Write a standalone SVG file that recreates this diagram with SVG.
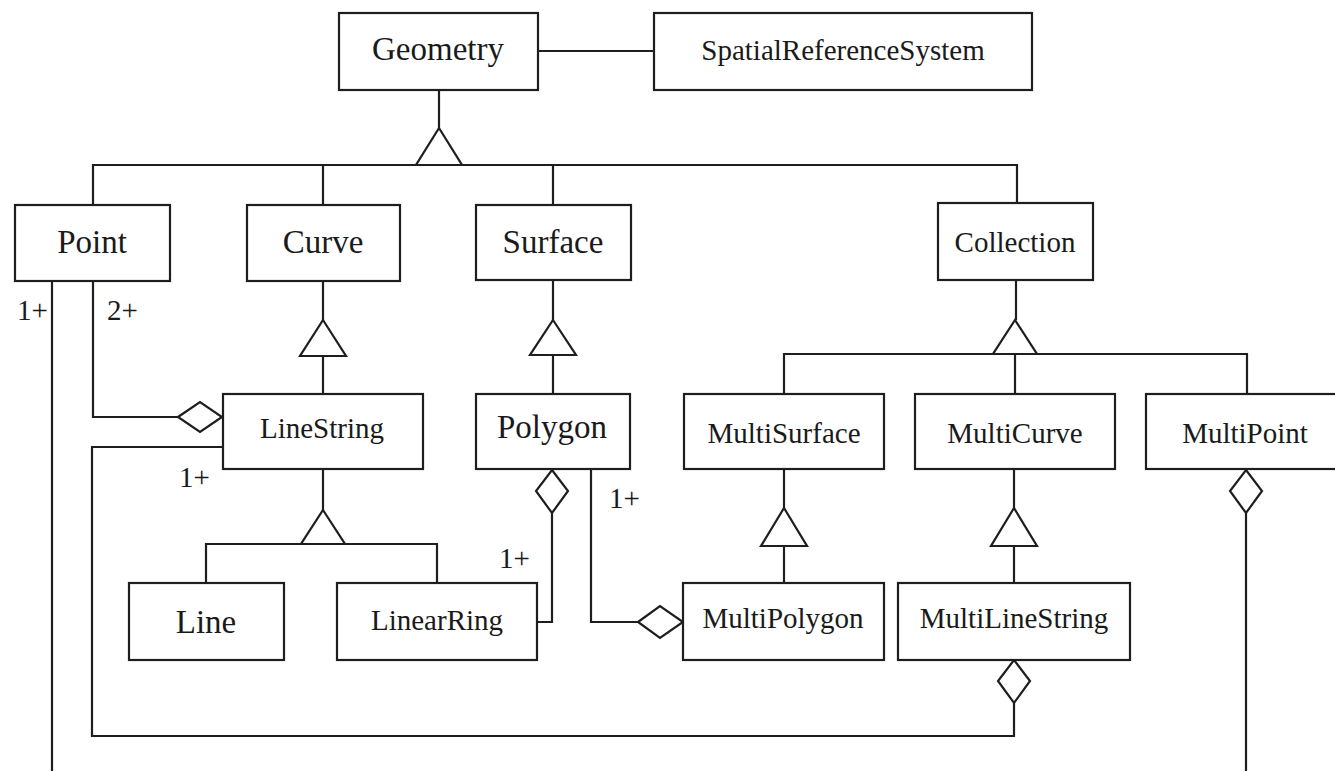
<svg xmlns="http://www.w3.org/2000/svg" width="1335" height="771" viewBox="0 0 1335 771">
<style>
.box{fill:#fff;stroke:#1e1e1e;stroke-width:2.2}
.t{font-family:"Liberation Serif","Times New Roman",serif;fill:#1a1a1a;text-anchor:middle}
.b{font-size:33px}
.s{font-size:29px}
.lbl{font-family:"Liberation Serif","Times New Roman",serif;fill:#1a1a1a;font-size:29px}
.ln{fill:none;stroke:#1e1e1e;stroke-width:2.2}
.tri{fill:#fff;stroke:#1e1e1e;stroke-width:2.2;stroke-linejoin:miter}
.dia{fill:#fff;stroke:#1e1e1e;stroke-width:2.2}
</style>
<rect width="1335" height="771" fill="#fff"/>
<g id="connectors">
<!-- Geometry - SRS -->
<path class="ln" d="M538,51 H654"/>
<!-- Geometry generalization -->
<path class="ln" d="M439,90 V128"/>
<path class="ln" d="M93,205 V165 H1017 V203"/>
<path class="ln" d="M323,165 V205"/>
<path class="ln" d="M553,165 V205"/>
<polygon class="tri" points="439,128 462,165 416,165"/>
<!-- Curve -> LineString -->
<path class="ln" d="M323,281 V394"/>
<polygon class="tri" points="323,320 346,356 300,356"/>
<!-- Surface -> Polygon -->
<path class="ln" d="M553,280 V394"/>
<polygon class="tri" points="553,320 576,355 530,355"/>
<!-- Collection -> Multi* -->
<path class="ln" d="M1016,280 V320"/>
<path class="ln" d="M784,394 V354 H1247 V394"/>
<path class="ln" d="M1015,354 V394"/>
<polygon class="tri" points="1015,320 1037,354 993,354"/>
<!-- LineString -> Line, LinearRing -->
<path class="ln" d="M323,469 V510"/>
<path class="ln" d="M206,583 V544 H437 V583"/>
<polygon class="tri" points="323,510 345,544 301,544"/>
<!-- MultiSurface -> MultiPolygon -->
<path class="ln" d="M784,469 V583"/>
<polygon class="tri" points="784,508 807,546 761,546"/>
<!-- MultiCurve -> MultiLineString -->
<path class="ln" d="M1014,469 V583"/>
<polygon class="tri" points="1014,508 1037,546 991,546"/>
<!-- Point 1+ line -->
<path class="ln" d="M52,281 V771"/>
<!-- Point 2+ to LineString -->
<path class="ln" d="M93,281 V417 H178"/>
<polygon class="dia" points="178,417 200,402 222,417 200,432"/>
<!-- LineString 1+ to MultiLineString -->
<path class="ln" d="M223,447 H92 V736 H1014 V703"/>
<polygon class="dia" points="1014,660 1030,681 1014,703 998,681"/>
<!-- LinearRing to Polygon -->
<path class="ln" d="M537,622 H552 V513"/>
<polygon class="dia" points="552,470 568,491 552,513 536,491"/>
<!-- Polygon to MultiPolygon -->
<path class="ln" d="M591,469 V622 H638"/>
<polygon class="dia" points="638,622 660,606 683,622 660,638"/>
<!-- MultiPoint to Point -->
<path class="ln" d="M1246,513 V771"/>
<polygon class="dia" points="1246,470 1262,491 1246,513 1230,491"/>
<!-- multiplicities -->
<text class="lbl" x="17" y="320">1+</text>
<text class="lbl" x="107" y="320">2+</text>
<text class="lbl" x="179" y="487">1+</text>
<text class="lbl" x="609" y="508">1+</text>
<text class="lbl" x="499" y="568">1+</text>
</g>
<g id="Geometry"><rect class="box" x="339" y="13" width="199" height="77"/><text class="t b" x="438" y="60">Geometry</text></g>
<g id="SpatialReferenceSystem"><rect class="box" x="654" y="13" width="378" height="77"/><text class="t s" x="843" y="60">SpatialReferenceSystem</text></g>
<g id="Point"><rect class="box" x="15" y="205" width="155" height="76"/><text class="t b" x="92" y="253">Point</text></g>
<g id="Curve"><rect class="box" x="247" y="205" width="153" height="76"/><text class="t b" x="323" y="253">Curve</text></g>
<g id="Surface"><rect class="box" x="476" y="205" width="155" height="75"/><text class="t b" x="553" y="253">Surface</text></g>
<g id="Collection"><rect class="box" x="938" y="203" width="155" height="77"/><text class="t s" x="1015" y="252">Collection</text></g>
<g id="LineString"><rect class="box" x="223" y="394" width="200" height="75"/><text class="t s" x="322" y="438">LineString</text></g>
<g id="Polygon"><rect class="box" x="476" y="394" width="154" height="75"/><text class="t b" x="552" y="438">Polygon</text></g>
<g id="MultiSurface"><rect class="box" x="684" y="394" width="200" height="75"/><text class="t s" x="784" y="443">MultiSurface</text></g>
<g id="MultiCurve"><rect class="box" x="915" y="394" width="200" height="75"/><text class="t s" x="1015" y="443">MultiCurve</text></g>
<g id="MultiPoint"><rect class="box" x="1146" y="394" width="200" height="75"/><text class="t s" x="1245" y="443">MultiPoint</text></g>
<g id="Line"><rect class="box" x="129" y="583" width="155" height="77"/><text class="t b" x="206" y="633">Line</text></g>
<g id="LinearRing"><rect class="box" x="337" y="583" width="200" height="77"/><text class="t s" x="437" y="630">LinearRing</text></g>
<g id="MultiPolygon"><rect class="box" x="683" y="583" width="201" height="77"/><text class="t s" x="783" y="628">MultiPolygon</text></g>
<g id="MultiLineString"><rect class="box" x="898" y="583" width="232" height="77"/><text class="t s" x="1014" y="628">MultiLineString</text></g>
</svg>
